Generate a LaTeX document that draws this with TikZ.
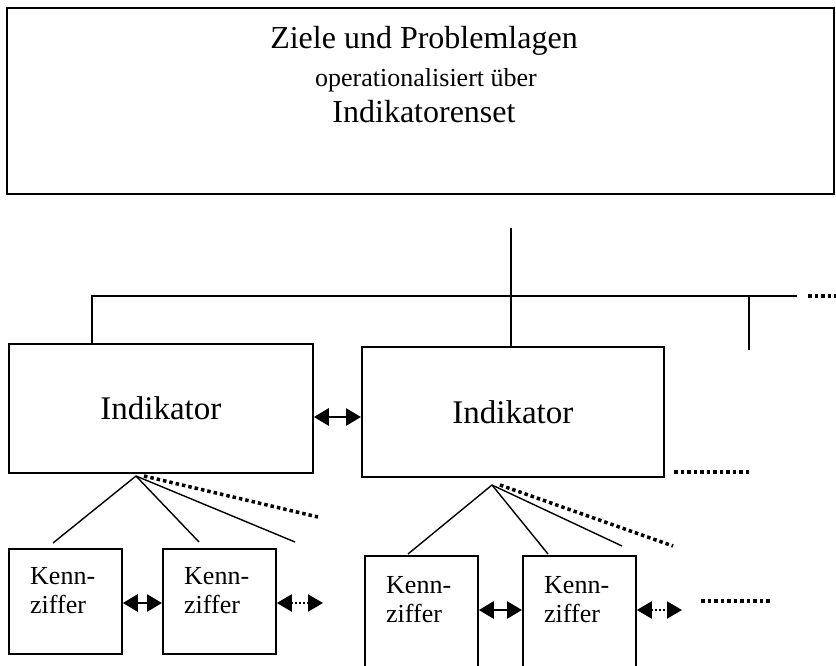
\documentclass[tikz,border=0pt]{standalone}
\usepackage{fontspec}
\setmainfont{Liberation Serif}
\usetikzlibrary{arrows.meta}
\begin{document}
\begin{tikzpicture}[x=1pt,y=-1pt,
  box/.style={draw, line width=1.8pt, inner sep=0pt, anchor=north west},
  conn/.style={line width=1.4pt},
  dots/.style={line width=3.5pt, dash pattern=on 3.5pt off 3pt},
  dbl/.style={line width=2.8pt, {Triangle[length=15pt,width=17pt]}-{Triangle[length=15pt,width=17pt]}},
  dotarr/.style={line width=2pt, dash pattern=on 2pt off 2pt, {Triangle[length=15pt,width=17pt]}-{Triangle[length=15pt,width=17pt]}},
  big/.style={font=\fontsize{33}{38}\selectfont},
  kt/.style={font=\fontsize{26}{29}\selectfont, align=left, inner sep=0pt, anchor=base west}
]
\useasboundingbox (0,0) rectangle (836,666);
% top box
\node[box, minimum width=827pt, minimum height=186pt] (top) at (6,7) {};
\node[font=\fontsize{32}{36}\selectfont, anchor=base] (t1) at (424,49) {Ziele und Problemlagen};
\node[font=\fontsize{26}{30}\selectfont, anchor=base] (t2) at (426,87) {operationalisiert über};
\node[font=\fontsize{32}{36}\selectfont, anchor=base] (t3) at (424,123) {Indikatorenset};
% Indikator boxes
\node[box, big, minimum width=304pt, minimum height=129pt] (ind1) at (8,343) {Indikator};
\node[box, big, minimum width=302pt, minimum height=130pt] (ind2) at (361,346) {Indikator};
% Kennziffer boxes
\node[box, minimum width=113pt, minimum height=105pt] (k1) at (8,548) {};
\node[box, minimum width=113pt, minimum height=105pt] (k2) at (162,548) {};
\node[box, minimum width=113pt, minimum height=120pt] (k3) at (364,555) {};
\node[box, minimum width=113pt, minimum height=120pt] (k4) at (522,555) {};
\node[kt] (k1t) at (30,613) {Kenn-\\ziffer};
\node[kt] (k2t) at (184,613) {Kenn-\\ziffer};
\node[kt] (k3t) at (386,622) {Kenn-\\ziffer};
\node[kt] (k4t) at (544,622) {Kenn-\\ziffer};
% tree lines
\coordinate (c0) at (511,228);
\coordinate (hl) at (92,296);
\coordinate (hr) at (797,296);
\coordinate (vb) at (749,350);
\draw[conn] (c0) -- (c0 |- ind2.north);
\draw[conn] (hl |- ind1.north) -- (hl) -- (hr);
\draw[conn] (vb |- hl) -- (vb);
\coordinate (d0a) at (808,296);
\coordinate (d0b) at (840,296);
\draw[dots] (d0a) -- (d0b);
% arrow between indicators
\coordinate (a1) at (0,417);
\draw[dbl] (ind1.east |- a1) -- (ind2.west |- a1);
\coordinate (d1a) at (674,472);
\coordinate (d1b) at (751,472);
\draw[dots] (d1a) -- (d1b);
% fan of indicator 1
\coordinate (ap1) at (136,476);
\coordinate (ap1d) at (144,476);
\coordinate (e11) at (53,543);
\coordinate (e12) at (199,542);
\coordinate (e13) at (295,542);
\coordinate (e14) at (318,517);
\draw[conn] (ap1) -- (e11);
\draw[conn] (ap1) -- (e12);
\draw[conn] (ap1) -- (e13);
\draw[dots] (ap1d) -- (e14);
% fan of indicator 2
\coordinate (ap2) at (492,485);
\coordinate (ap2d) at (500,485);
\coordinate (e21) at (408,554);
\coordinate (e22) at (548,554);
\coordinate (e23) at (622,546);
\coordinate (e24) at (673,546);
\draw[conn] (ap2) -- (e21);
\draw[conn] (ap2) -- (e22);
\draw[conn] (ap2) -- (e23);
\draw[dots] (ap2d) -- (e24);
% Kennziffer arrows
\coordinate (a2) at (0,603);
\coordinate (a2e) at (323,603);
\draw[dbl] (k1.east |- a2) -- (k2.west |- a2);
\draw[dotarr] (k2.east |- a2) -- (a2e);
\coordinate (a3) at (0,610);
\coordinate (a3e) at (682,610);
\draw[dbl] (k3.east |- a3) -- (k4.west |- a3);
\draw[dotarr] (k4.east |- a3) -- (a3e);
\coordinate (d2a) at (701,601);
\coordinate (d2b) at (772,601);
\draw[dots] (d2a) -- (d2b);
\end{tikzpicture}
\end{document}
